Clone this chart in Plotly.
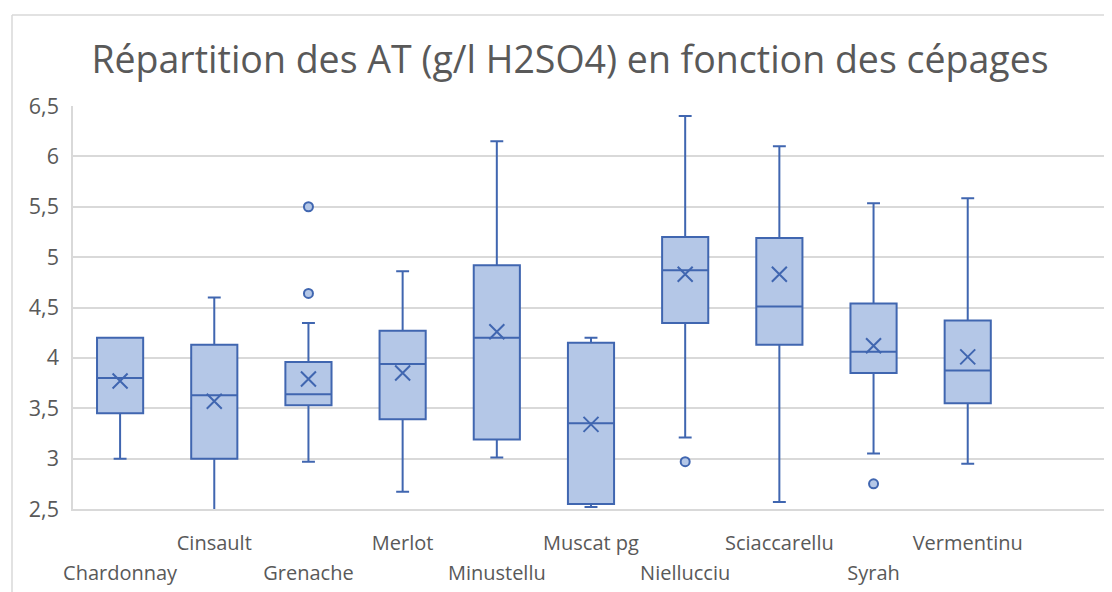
import plotly.graph_objects as go

# ---- data ----
cepages = ["Chardonnay", "Cinsault", "Grenache", "Merlot", "Minustellu",
           "Muscat pg", "Niellucciu", "Sciaccarellu", "Syrah", "Vermentinu"]
q1 = [3.45, 3.00, 3.53, 3.39, 3.19, 2.55, 4.345, 4.13, 3.85, 3.55]
median = [3.80, 3.63, 3.64, 3.94, 4.20, 3.35, 4.87, 4.51, 4.06, 3.875]
q3 = [4.20, 4.13, 3.96, 4.27, 4.92, 4.15, 5.20, 5.19, 4.54, 4.37]
lowerfence = [3.00, 2.48, 2.97, 2.67, 3.01, 2.52, 3.21, 2.57, 3.05, 2.95]
upperfence = [4.20, 4.60, 4.345, 4.86, 6.15, 4.20, 6.40, 6.10, 5.535, 5.585]
moyenne = [3.77, 3.57, 3.79, 3.85, 4.26, 3.34, 4.83, 4.83, 4.12, 4.01]
outlier_cepage = ["Grenache", "Grenache", "Niellucciu", "Syrah"]
outlier_value = [5.50, 4.64, 2.97, 2.75]
y_ticks = [2.5, 3, 3.5, 4, 4.5, 5, 5.5, 6, 6.5]

# staggered labels: upper row / lower row
upper_row = cepages[1::2]
lower_row = cepages[0::2]

LINE = "#4066B0"
FILL = "#B4C7E7"
GRID = "#D9D9D9"
TEXT = "#595959"

fig = go.Figure()
fig.add_trace(go.Box(
    x=cepages, q1=q1, median=median, q3=q3,
    lowerfence=lowerfence, upperfence=upperfence,
    fillcolor=FILL, line=dict(color=LINE, width=2),
    width=0.49, whiskerwidth=0.28, boxpoints=False,
    showlegend=False, hoverinfo="skip",
))
fig.add_trace(go.Scatter(
    x=cepages, y=moyenne, mode="markers", xaxis="x2",
    marker=dict(symbol="x-thin", size=15, color=LINE,
                line=dict(color=LINE, width=2)),
    showlegend=False, hoverinfo="skip",
))
fig.add_trace(go.Scatter(
    x=outlier_cepage, y=outlier_value, mode="markers",
    marker=dict(symbol="circle", size=9, color=FILL,
                line=dict(color=LINE, width=2)),
    showlegend=False, hoverinfo="skip",
))

OFF = 8  # page offset of the figure inside the browser window
W, H = 1112 - OFF, 592 - OFF
L, T = 73 - OFF, 106 - OFF
R = W - (1109 - OFF)
B = H - (509 - OFF)
pw, ph = W - L - R, H - T - B

def px_x(p):
    return (p - OFF - L) / pw

def px_y(p):
    return (H - B - (p - OFF)) / ph

fig.update_layout(
    width=W, height=H,
    margin=dict(l=L, r=R, t=T, b=B, autoexpand=False),
    paper_bgcolor="white", plot_bgcolor="white",
    separators=", ",
    font=dict(family="Open Sans", color=TEXT, size=20),
    title=dict(text="Répartition des AT (g/l H2SO4) en fonction des cépages",
               font=dict(family="Open Sans", size=37.5, color=TEXT),
               xref="paper", x=px_x(570), xanchor="center",
               yref="container", y=1 - (60 - OFF) / H, yanchor="middle"),
    xaxis=dict(type="category", range=[-0.5, 10.5],
               categoryorder="array", categoryarray=cepages,
               tickvals=upper_row, ticktext=upper_row, tickangle=0,
               showgrid=False, zeroline=False,
               showline=True, linecolor=GRID, linewidth=1.5,
               ticks="", ticklabelstandoff=15,
               tickfont=dict(size=20, color=TEXT)),
    xaxis2=dict(type="category", range=[-0.5, 10.5], overlaying="x",
                side="bottom", anchor="y",
                categoryorder="array", categoryarray=cepages,
                tickvals=lower_row, ticktext=lower_row, tickangle=0,
                showgrid=False, zeroline=False, showline=False,
                ticks="", ticklabelstandoff=50,
                tickfont=dict(size=20, color=TEXT)),
    yaxis=dict(range=[2.5, 6.5], tickvals=y_ticks,
               showgrid=True, gridcolor=GRID, gridwidth=1.5,
               zeroline=False, showline=True, linecolor=GRID, linewidth=1.5,
               ticks="", ticklabelstandoff=8,
               tickfont=dict(size=21.5, color=TEXT)),
    shapes=[
        dict(type="line", xref="paper", yref="paper",
             x0=px_x(12), x1=px_x(12), y0=px_y(15), y1=px_y(700),
             line=dict(color=GRID, width=1.5)),
        dict(type="line", xref="paper", yref="paper",
             x0=px_x(12), x1=px_x(1200), y0=px_y(15), y1=px_y(15),
             line=dict(color=GRID, width=1.5)),
    ],
)

fig.write_html("out.html")
